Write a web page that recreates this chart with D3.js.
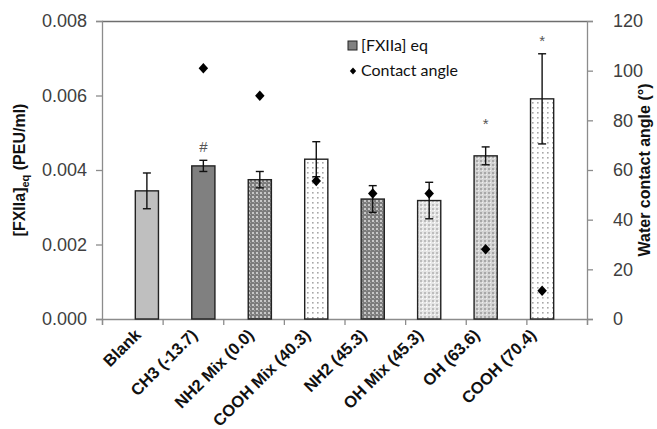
<!DOCTYPE html>
<html><head><meta charset="utf-8">
<script src="https://cdn.jsdelivr.net/npm/d3@7"></script>
<style>body{margin:0;background:#fff}svg{display:block}</style>
</head><body><svg id="c" width="657" height="429"></svg>
<script>
const categories = ["Blank","CH3 (-13.7)","NH2 Mix (0.0)","COOH Mix (40.3)","NH2 (45.3)","OH Mix (45.3)","OH (63.6)","COOH (70.4)"];
const fxiia = [0.00344,0.00411,0.00374,0.00429,0.00322,0.00318,0.00438,0.00591];
const fxiiaErr = [0.00048,0.00015,0.00022,0.00047,0.00036,0.00049,0.00024,0.00121];
const contactAngle = [null,101.0,89.9,55.6,50.5,50.5,28.1,11.4];
const marks = ["","#","","","","","*","*"];
const markLevel = [null,0.00462,null,null,null,null,0.00533,0.00758];
const fills = ["solid-light","solid-dark","checker-dark","dots","checker-dark","checker-light","checker-mid","dots"];
const leftTicks = [0,0.002,0.004,0.006,0.008];
const rightTicks = [0,20,40,60,80,100,120];

const svg = d3.select("#c");
const L=102, R=587, T=21, B=319;
const x = d3.scaleBand().domain(categories).range([L,R]).padding(0.59);
const y = d3.scaleLinear().domain([0,0.008]).range([B,T]);
const y2 = d3.scaleLinear().domain([0,120]).range([B,T]);
const xb = d3.scaleLinear().domain([0,categories.length]).range([L,R]);

const defs = svg.append("defs");
function checker(id, bg, fg, light){
  const p = defs.append("pattern").attr("id",id).attr("patternUnits","userSpaceOnUse").attr("width",4).attr("height",4);
  p.append("rect").attr("width",4).attr("height",4).attr("fill",bg);
  p.append("rect").attr("x",0).attr("y",0).attr("width",2).attr("height",2).attr("fill",fg);
  p.append("rect").attr("x",2).attr("y",2).attr("width",1).attr("height",1).attr("fill",light);
}
checker("checker-dark","#7c7c7c","#c8c8c8","#a0a0a0");
checker("checker-light","#e6e6e6","#bdbdbd","#ffffff");
checker("checker-mid","#d4d4d4","#a8a8a8","#f0f0f0");
const dp = defs.append("pattern").attr("id","dots").attr("patternUnits","userSpaceOnUse").attr("width",5).attr("height",5);
dp.append("rect").attr("width",5).attr("height",5).attr("fill","#fff");
dp.append("rect").attr("x",2).attr("y",2).attr("width",1.6).attr("height",1.6).attr("fill","#a8a8a8");
const fillOf = f => f==="solid-light" ? "#bfbfbf" : f==="solid-dark" ? "#808080" : `url(#${f})`;

const font = "'Liberation Sans', Arial, sans-serif";

// rhombus symbol
const rhombus = { draw(ctx, size){ const w = Math.sqrt(size)/2, h = w*1.1;
  ctx.moveTo(0,-h); ctx.lineTo(w,0); ctx.lineTo(0,h); ctx.lineTo(-w,0); ctx.closePath(); } };

// top border
svg.append("line").attr("x1",L).attr("x2",R).attr("y1",T+0.5).attr("y2",T+0.5).attr("stroke","#6e6e6e").attr("stroke-width",1.3);

// left axis
const gl = svg.append("g").attr("transform",`translate(${L},0)`)
  .call(d3.axisLeft(y).tickValues(leftTicks).tickFormat(d3.format(".3f")).tickSize(6).tickPadding(9));
// right axis
const gr = svg.append("g").attr("transform",`translate(${R},0)`)
  .call(d3.axisRight(y2).tickValues(rightTicks).tickSize(6).tickPadding(20));
// bottom axis (boundary ticks)
const gb = svg.append("g").attr("transform",`translate(0,${B})`)
  .call(d3.axisBottom(xb).ticks(categories.length).tickFormat("").tickSize(6));
[gl,gr,gb].forEach(g=>{
  g.selectAll("path.domain").attr("stroke","#8c8c8c").attr("stroke-width",1.3);
  g.selectAll(".tick line").attr("stroke","#8c8c8c").attr("stroke-width",1.3);
  g.selectAll("text").attr("font-family",font).attr("font-size",18).attr("fill","#404040");
});

// bars
svg.append("g").selectAll("rect").data(categories).join("rect")
  .attr("x",d=>x(d)).attr("width",x.bandwidth())
  .attr("y",(d,i)=>y(fxiia[i])).attr("height",(d,i)=>B-y(fxiia[i]))
  .attr("fill",(d,i)=>fillOf(fills[i])).attr("stroke","#222").attr("stroke-width",1.4);

// error bars
const eg = svg.append("g").attr("stroke","#111").attr("stroke-width",1.4);
categories.forEach((c,i)=>{
  const cx = x(c)+x.bandwidth()/2;
  const y1 = y(fxiia[i]+fxiiaErr[i]), y0 = y(fxiia[i]-fxiiaErr[i]);
  eg.append("line").attr("x1",cx).attr("x2",cx).attr("y1",y1).attr("y2",y0);
  eg.append("line").attr("x1",cx-4).attr("x2",cx+4).attr("y1",y1).attr("y2",y1);
  eg.append("line").attr("x1",cx-4).attr("x2",cx+4).attr("y1",y0).attr("y2",y0);
});

// significance marks
svg.append("g").selectAll("text").data(categories.map((c,i)=>({c,m:marks[i],v:markLevel[i]})).filter(d=>d.v!=null)).join("text")
  .attr("x",d=>x(d.c)+x.bandwidth()/2)
  .attr("y",d=>y(d.v))
  .attr("dy",d=>d.m==="*" ? 9 : 5)
  .attr("text-anchor","middle").attr("font-family",font).attr("font-size",15).attr("fill","#555")
  .text(d=>d.m);

// contact angle diamonds
svg.append("g").selectAll("path").data(categories.map((c,i)=>({c,v:contactAngle[i]})).filter(d=>d.v!=null)).join("path")
  .attr("d",d3.symbol().type(rhombus).size(90)).attr("fill","#000")
  .attr("transform",d=>`translate(${x(d.c)+x.bandwidth()/2},${y2(d.v)})`);

// x labels
svg.append("g").selectAll("text").data(categories).join("text")
  .attr("transform",d=>`translate(${x(d)+x.bandwidth()/2-5},${B+17}) rotate(-45)`)
  .attr("text-anchor","end").attr("font-family",font).attr("font-weight","bold").attr("font-size",16.5).attr("fill","#111")
  .text(d=>d);

// axis titles
const lt = svg.append("text").attr("transform",`translate(25,${(T+B)/2}) rotate(-90)`)
  .attr("text-anchor","middle").attr("font-family",font).attr("font-weight","bold").attr("font-size",16).attr("fill","#111");
lt.append("tspan").text("[FXIIa]");
lt.append("tspan").attr("font-size",11).attr("dy",4).text("eq");
lt.append("tspan").attr("dy",-4).text(" (PEU/ml)");
svg.append("text").attr("transform",`translate(650,${(T+B)/2}) rotate(-90)`)
  .attr("text-anchor","middle").attr("font-family",font).attr("font-weight","bold").attr("font-size",16).attr("fill","#111")
  .text("Water contact angle (°)");

// legend
const lg = svg.append("g").attr("font-family","Lato, 'Open Sans', sans-serif").attr("font-size",16).attr("fill","#111");
lg.append("rect").attr("x",348).attr("y",41).attr("width",9).attr("height",9).attr("fill","#808080").attr("stroke","#222").attr("stroke-width",1);
lg.append("text").attr("x",361).attr("y",51).text("[FXIIa] eq");
lg.append("path").attr("d",d3.symbol().type(rhombus).size(40)).attr("transform","translate(353,71)").attr("fill","#000");
lg.append("text").attr("x",361).attr("y",76).text("Contact angle");
</script></body></html>
